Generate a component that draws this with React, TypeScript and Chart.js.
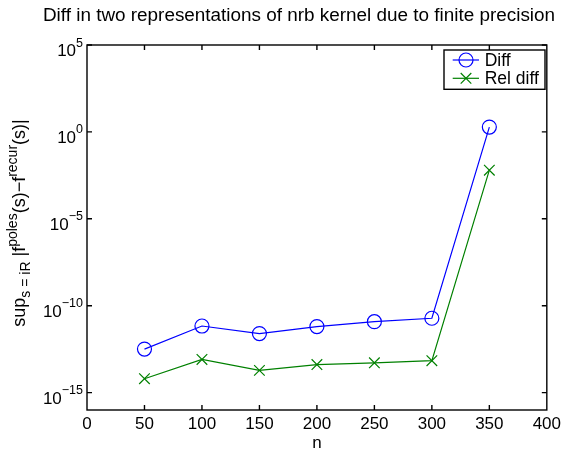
import React, { useEffect, useRef } from 'react';
import { Chart, registerables } from 'chart.js';

Chart.register(...registerables);

// ---- data ----
const nValues = [50, 100, 150, 200, 250, 300, 350];
const diffValues = [3.2e-13, 6.8e-12, 2.5e-12, 6.3e-12, 1.2e-11, 1.9e-11, 1.9];
const relDiffValues = [6.3e-15, 8.1e-14, 1.9e-14, 4.1e-14, 5.2e-14, 6.9e-14, 6.3e-3];
const seriesLabels = ['Diff', 'Rel diff'];
const seriesColors = ['#0000ff', '#008000'];
const xTickStep = 50;
const xMin = 0;
const xMax = 400;
const yTickExponents = [-15, -10, -5, 0, 5];
const yMin = 1e-16;
const yMax = 1e5;
const titleText = 'Diff in two representations of nrb kernel due to finite precision';
const xLabel = 'n';
// y label pieces: [text, kind]
const yLabelParts: [string, 'n' | 'sub' | 'sup'][] = [
  ['sup', 'n'],
  ['s = iR', 'sub'],
  [' |f', 'n'],
  ['poles', 'sup'],
  ['(s)\u2212f', 'n'],
  ['recur', 'sup'],
  ['(s)|', 'n'],
];

const FONT = '"Liberation Sans", Arial, Helvetica, sans-serif';

const overlayPlugin = {
  id: 'matlabOverlay',
  afterDraw(chart: any) {
    const ctx: CanvasRenderingContext2D = chart.ctx;
    const { left, right, top, bottom } = chart.chartArea;
    const xs = chart.scales.x;
    const ys = chart.scales.y;
    ctx.save();
    ctx.strokeStyle = '#000';
    ctx.lineWidth = 1.4;
    // ticks
    const tl = 5;
    ctx.beginPath();
    for (let v = xMin + xTickStep; v < xMax; v += xTickStep) {
      const px = xs.getPixelForValue(v);
      ctx.moveTo(px, bottom);
      ctx.lineTo(px, bottom - tl);
      ctx.moveTo(px, top);
      ctx.lineTo(px, top + tl);
    }
    for (const e of yTickExponents) {
      const py = ys.getPixelForValue(Math.pow(10, e));
      ctx.moveTo(left, py);
      ctx.lineTo(left + tl, py);
      ctx.moveTo(right, py);
      ctx.lineTo(right - tl, py);
    }
    ctx.stroke();
    // box
    ctx.strokeRect(left, top, right - left, bottom - top);

    // y tick labels with superscripts
    ctx.fillStyle = '#000';
    ctx.textBaseline = 'alphabetic';
    for (const e of yTickExponents) {
      const py = ys.getPixelForValue(Math.pow(10, e));
      const expText = e < 0 ? '\u2212' + Math.abs(e) : String(e);
      ctx.font = `12.5px ${FONT}`;
      const ew = ctx.measureText(expText).width;
      const rightEdge = left - 4;
      ctx.textAlign = 'left';
      ctx.fillText(expText, rightEdge - ew, py + 1.5);
      ctx.font = `17px ${FONT}`;
      ctx.textAlign = 'right';
      ctx.fillText('10', rightEdge - ew, py + 11);
    }

    // title
    ctx.font = `18.9px ${FONT}`;
    ctx.textAlign = 'center';
    ctx.fillText(titleText, 299, 20.5);

    // y label (rotated, with sub/superscripts)
    const fontFor = (k: string) => (k === 'n' ? `18px ${FONT}` : `14px ${FONT}`);
    const offFor = (k: string) => (k === 'sub' ? 4.5 : k === 'sup' ? -8 : 0);
    let total = 0;
    const widths: number[] = [];
    for (const [t, k] of yLabelParts) {
      ctx.font = fontFor(k);
      const w = ctx.measureText(t).width;
      widths.push(w);
      total += w;
    }
    ctx.save();
    ctx.translate(25, 223);
    ctx.rotate(-Math.PI / 2);
    ctx.textAlign = 'left';
    let cx = -total / 2;
    yLabelParts.forEach(([t, k], i) => {
      ctx.font = fontFor(k);
      ctx.fillText(t, cx, offFor(k));
      cx += widths[i];
    });
    ctx.restore();

    // legend
    const lx0 = 444, ly0 = 50, lx1 = 545, ly1 = 89.3;
    ctx.fillStyle = '#fff';
    ctx.fillRect(lx0, ly0, lx1 - lx0, ly1 - ly0);
    ctx.lineWidth = 1.4;
    ctx.strokeStyle = '#000';
    ctx.strokeRect(lx0, ly0, lx1 - lx0, ly1 - ly0);
    const rows = [60, 78.3];
    seriesLabels.forEach((lab, i) => {
      const yy = rows[i];
      ctx.strokeStyle = seriesColors[i];
      ctx.lineWidth = 1.2;
      ctx.beginPath();
      ctx.moveTo(452.7, yy);
      ctx.lineTo(479, yy);
      ctx.stroke();
      ctx.beginPath();
      if (i === 0) {
        ctx.arc(466, yy, 7, 0, Math.PI * 2);
      } else {
        const r = 5.3;
        ctx.moveTo(466 - r, yy - r);
        ctx.lineTo(466 + r, yy + r);
        ctx.moveTo(466 - r, yy + r);
        ctx.lineTo(466 + r, yy - r);
      }
      ctx.stroke();
      ctx.fillStyle = '#000';
      ctx.font = `17.5px ${FONT}`;
      ctx.textAlign = 'left';
      ctx.fillText(lab, 484.7, yy + 6.1);
    });
    ctx.restore();
  },
};

export default function App() {
  const ref = useRef<HTMLCanvasElement | null>(null);
  useEffect(() => {
    if (!ref.current) return;
    const chart = new Chart(ref.current, {
      type: 'line',
      data: {
        datasets: [
          {
            label: seriesLabels[0],
            data: nValues.map((n, i) => ({ x: n, y: diffValues[i] })),
            borderColor: seriesColors[0],
            backgroundColor: 'rgba(0,0,0,0)',
            borderWidth: 1.2,
            pointStyle: 'circle',
            pointRadius: 7,
            pointBorderWidth: 1.2,
            pointBorderColor: seriesColors[0],
            pointBackgroundColor: 'rgba(0,0,0,0)',
            tension: 0,
          },
          {
            label: seriesLabels[1],
            data: nValues.map((n, i) => ({ x: n, y: relDiffValues[i] })),
            borderColor: seriesColors[1],
            backgroundColor: 'rgba(0,0,0,0)',
            borderWidth: 1.2,
            pointStyle: 'crossRot',
            pointRadius: 7.5,
            pointBorderWidth: 1.2,
            pointBorderColor: seriesColors[1],
            pointBackgroundColor: 'rgba(0,0,0,0)',
            tension: 0,
          },
        ],
      },
      options: {
        responsive: false,
        animation: false,
        layout: { padding: { top: 45, right: 15, left: 0, bottom: 0 } },
        plugins: {
          legend: { display: false },
          title: { display: false },
          tooltip: { enabled: false },
        },
        scales: {
          x: {
            type: 'linear',
            min: xMin,
            max: xMax,
            grid: { display: false, drawTicks: false },
            border: { display: false },
            ticks: {
              stepSize: xTickStep,
              color: '#000',
              font: { family: FONT, size: 17 },
              padding: 4,
              maxRotation: 0,
              autoSkip: false,
            },
            title: {
              display: true,
              text: xLabel,
              color: '#000',
              font: { family: FONT, size: 17 },
              padding: { top: 0, bottom: 0 },
            },
            afterFit: (scale: any) => {
              scale.height = 44;
            },
          },
          y: {
            type: 'logarithmic',
            min: yMin,
            max: yMax,
            grid: { display: false, drawTicks: false },
            border: { display: false },
            ticks: { display: false },
            afterBuildTicks: (scale: any) => {
              scale.ticks = yTickExponents.map((e) => ({ value: Math.pow(10, e) }));
            },
            afterFit: (scale: any) => {
              scale.width = 87;
            },
          },
        },
      },
      plugins: [overlayPlugin],
    } as any);
    return () => chart.destroy();
  }, []);
  return (
    <div style={{ position: 'fixed', left: 0, top: 0, width: 565, height: 454, background: '#fff' }}>
      <canvas ref={ref} width={565} height={454} />
    </div>
  );
}
